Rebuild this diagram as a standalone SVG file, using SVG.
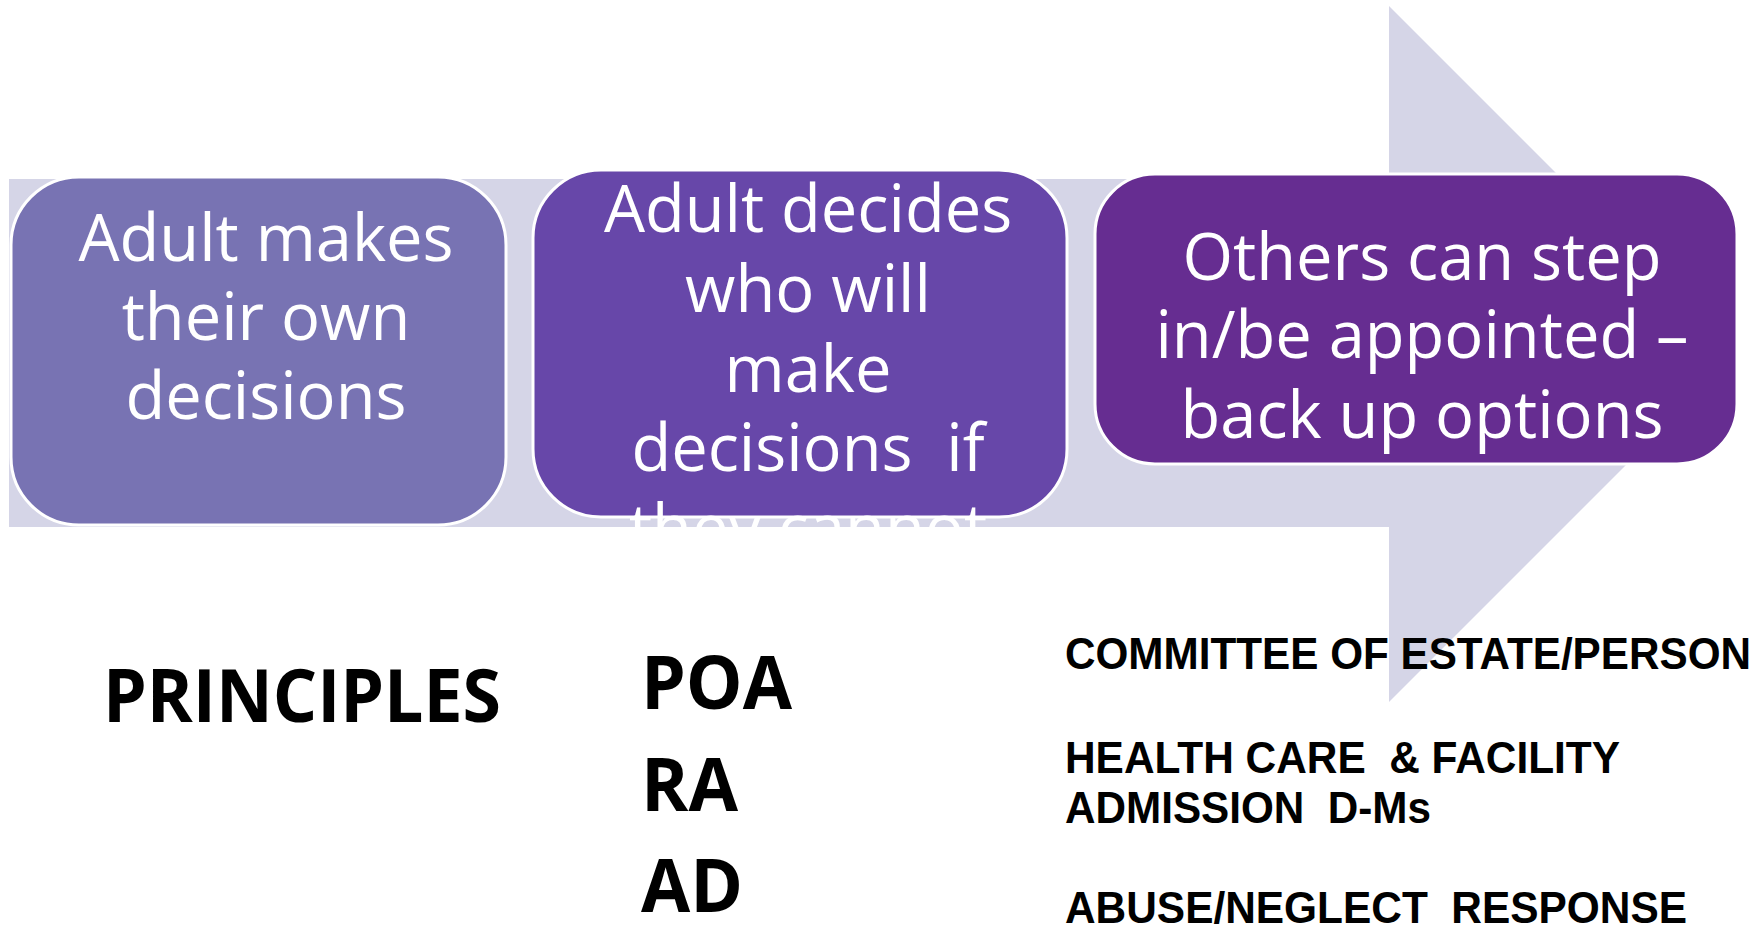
<svg xmlns="http://www.w3.org/2000/svg" width="1756" height="926" viewBox="0 0 1756 926">
<style>
.box{stroke:#ffffff;stroke-width:3}
.bt{font-family:"Open Sans","Noto Sans",sans-serif;font-size:65px;fill:#ffffff;text-anchor:middle}
.lb{font-family:"Open Sans","Noto Sans",sans-serif;font-weight:bold;font-size:74px;fill:#000000}
.rt{font-family:"Liberation Sans",Arial,sans-serif;font-weight:bold;font-size:44px;fill:#000000}
</style>
<rect width="1756" height="926" fill="#ffffff"/>
<g id="arrow">
<polygon points="9,179 1389,179 1389,6 1737,354 1389,702 1389,527 9,527" fill="#D5D5E7"/>
</g>
<g id="node1">
<rect class="box" x="11" y="177" width="495" height="348" rx="68" fill="#7873B3"/>
<text class="bt"><tspan x="266" y="261">Adult makes</tspan><tspan x="266" y="340">their own</tspan><tspan x="266" y="419">decisions</tspan></text>
</g>
<g id="node2">
<rect class="box" x="533" y="170" width="534" height="347" rx="68" fill="#6747A9"/>
<text class="bt" xml:space="preserve"><tspan x="808" y="232">Adult decides</tspan><tspan x="808" y="312">who will</tspan><tspan x="808" y="392">make</tspan><tspan x="808" y="471">decisions  if</tspan><tspan x="808" y="551">they cannot</tspan></text>
</g>
<g id="node3">
<rect class="box" x="1095" y="174" width="642" height="290" rx="60" fill="#662D91"/>
<text class="bt"><tspan x="1422" y="280">Others can step</tspan><tspan x="1422" y="358">in/be appointed –</tspan><tspan x="1422" y="438">back up options</tspan></text>
</g>
<g id="labels">
<text class="lb" x="103" y="722" textLength="398" lengthAdjust="spacingAndGlyphs">PRINCIPLES</text>
<text class="lb" x="641" y="709" textLength="151" lengthAdjust="spacingAndGlyphs">POA</text>
<text class="lb" x="641" y="811" textLength="97" lengthAdjust="spacingAndGlyphs">RA</text>
<text class="lb" x="641" y="912" textLength="102" lengthAdjust="spacingAndGlyphs">AD</text>
<text class="rt" x="1065" y="669" textLength="686" lengthAdjust="spacingAndGlyphs">COMMITTEE OF ESTATE/PERSON</text>
<text class="rt" x="1065" y="773" textLength="555" lengthAdjust="spacingAndGlyphs" xml:space="preserve">HEALTH CARE  &amp; FACILITY</text>
<text class="rt" x="1065" y="823" textLength="366" lengthAdjust="spacingAndGlyphs" xml:space="preserve">ADMISSION  D-Ms</text>
<text class="rt" x="1065" y="923" textLength="622" lengthAdjust="spacingAndGlyphs" xml:space="preserve">ABUSE/NEGLECT  RESPONSE</text>
</g>
</svg>
